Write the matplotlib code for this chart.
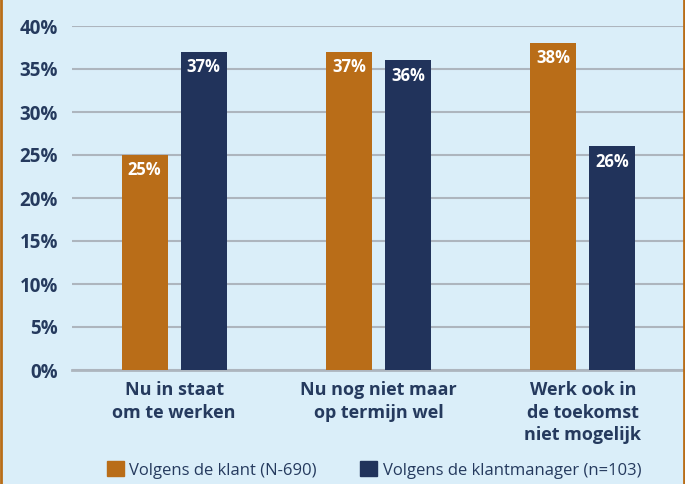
import matplotlib
matplotlib.use("Agg")
import matplotlib.pyplot as plt
import numpy as np
from matplotlib.patches import Rectangle

categories = ["Nu in staat\nom te werken", "Nu nog niet maar\nop termijn wel", "Werk ook in\nde toekomst\nniet mogelijk"]
klant = [25, 37, 38]
klantmanager = [37, 36, 26]
series_names = ["Volgens de klant (N-690)", "Volgens de klantmanager (n=103)"]
yticks = [0, 5, 10, 15, 20, 25, 30, 35, 40]

bg = "#daeef9"
orange = "#b96d18"
navy = "#21335b"
textc = "#253a5e"
plt.rcParams['font.family'] = ['Open Sans', 'DejaVu Sans']

W, H = 685, 484
fig = plt.figure(figsize=(W/100, H/100), dpi=100, facecolor=bg)
ax = fig.add_axes([72/W, 1-370/H, (685-72)/W, (370-26)/H], facecolor=bg)

x = np.arange(len(categories))
bw = 0.225
off = 0.145
b1 = ax.bar(x - off, klant, bw, color=orange, zorder=3)
b2 = ax.bar(x + off, klantmanager, bw, color=navy, zorder=3)

for bars, vals in ((b1, klant), (b2, klantmanager)):
    for r, v in zip(bars, vals):
        ax.annotate(f"{v}%", (r.get_x() + r.get_width()/2, v), xytext=(0, -11),
                    textcoords="offset points", ha="center", va="center",
                    color="white", fontsize=12, fontweight="bold", zorder=4)

ax.set_xlim(-0.5, 2.5)
ax.set_ylim(0, 40)
ax.set_yticks(yticks)
ax.set_yticklabels([f"{t}%" for t in yticks], fontsize=13.5, fontweight="bold", color=textc)
ax.yaxis.grid(True, color="#adb5be", linewidth=1.5, zorder=0)
ax.set_axisbelow(True)
ax.tick_params(axis="y", length=0, pad=10)
ax.tick_params(axis="x", length=0, pad=8)
ax.set_xticks(x)
ax.set_xticklabels(categories, fontsize=13, fontweight="bold", color=textc, linespacing=1.32, va="top")
for s in ["top", "right", "left"]:
    ax.spines[s].set_visible(False)
ax.spines["bottom"].set_color("#adb5be")
ax.spines["bottom"].set_linewidth(2)

handles = [Rectangle((0, 0), 1, 1, color=orange), Rectangle((0, 0), 1, 1, color=navy)]
fig.legend(handles, series_names, loc="center", bbox_to_anchor=(374/W, 1-470/H), ncol=2,
           frameon=False, fontsize=12, labelcolor=textc, handlelength=1.0, handleheight=1.0,
           handletextpad=0.35, columnspacing=2.6)

# orange side borders
fig.add_artist(plt.Line2D([1/W, 1/W], [0, 1], color=orange, linewidth=2, transform=fig.transFigure))
fig.add_artist(plt.Line2D([1-1/W, 1-1/W], [0, 1], color=orange, linewidth=2, transform=fig.transFigure))

fig.savefig("out.png", dpi=100, facecolor=bg)
